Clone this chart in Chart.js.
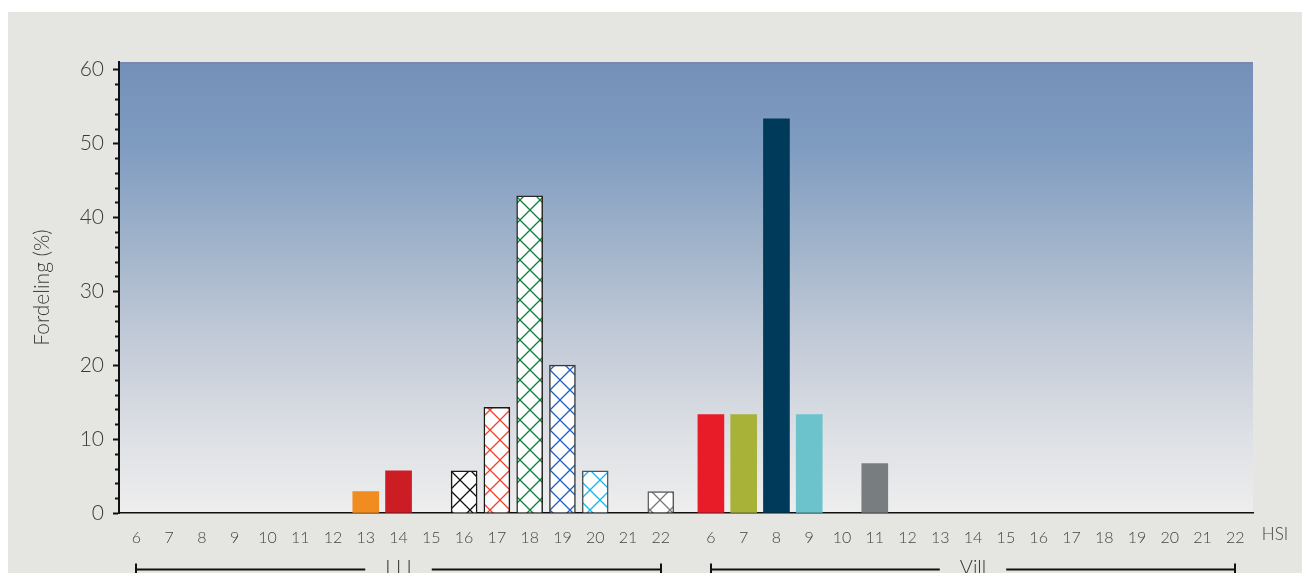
<!DOCTYPE html>
<html>
<head>
<meta charset="utf-8">
<script src="https://cdn.jsdelivr.net/npm/chart.js@4.4.1/dist/chart.umd.min.js"></script>
<style>
  html, body { margin: 0; padding: 0; background: #fff; }
  #wrap { width: 1302px; height: 573px; }
</style>
</head>
<body>
<div id="wrap"><canvas id="chart-hsi" width="1302" height="573"></canvas></div>
<script>
// HSI categories, same for both groups
const hsiLabels = [6, 7, 8, 9, 10, 11, 12, 13, 14, 15, 16, 17, 18, 19, 20, 21, 22];
const groupNames = ["I I I", "Vill"];
// Fordeling (%)
const oppdrett = [0, 0, 0, 0, 0, 0, 0, 2.9, 5.7, 0, 5.7, 14.3, 42.9, 20, 5.7, 0, 2.9];
const vill = [13.3, 13.3, 53.3, 13.3, 0, 6.7, 0, 0, 0, 0, 0, 0, 0, 0, 0, 0, 0];
const yTicks = [0, 10, 20, 30, 40, 50, 60];

// colours, hatched bars are given as {hatch: lineColor}
const oppdrettColors = [null, null, null, null, null, null, null,
    "#f08c20", "#cc1c24", null,
    {hatch: "#111111"}, {hatch: "#f0402c"}, {hatch: "#0e7d3c"}, {hatch: "#1d5fbf"},
    {hatch: "#12b6e6"}, null, {hatch: "#777777"}];
const oppdrettBorders = [null, null, null, null, null, null, null, null, null, null,
    "#1a1a1a", "#1a1a1a", "#2a2a2a", "#3a3a3a", "#555555", null, "#5a5a5a"];
const villColors = ["#e81c28", "#a8b238", "#003a5a", "#6cc3cc", null, "#787e80",
    null, null, null, null, null, null, null, null, null, null, null];

const groupOffset = 17.53;
const fontFamily = "Lato, 'Open Sans', sans-serif";

const $ = document;
const ctx = $.getElementById("chart-hsi");

function hatch(color) {
    const c = $.createElement("canvas");
    c.width = 20;
    c.height = 20;
    const g = c.getContext("2d");
    g.fillStyle = "#ffffff";
    g.fillRect(0, 0, 20, 20);
    g.strokeStyle = color;
    g.lineWidth = 1.3;
    g.beginPath();
    g.moveTo(-1, -1); g.lineTo(21, 21);
    g.moveTo(21, -1); g.lineTo(-1, 21);
    g.stroke();
    g.fillStyle = color;
    g.fillRect(9, 9, 2, 2);
    return ctx.getContext("2d").createPattern(c, "repeat");
}

const toFill = (c) => (c && c.hatch ? hatch(c.hatch) : (c || "rgba(0,0,0,0)"));

const oppdrettData = hsiLabels.map((h, i) => ({x: i, y: oppdrett[i]}));
const villData = hsiLabels.map((h, i) => ({x: i + groupOffset, y: vill[i]}));
const tickPositions = hsiLabels.map((h, i) => i).concat(hsiLabels.map((h, i) => i + groupOffset));
const tickText = hsiLabels.concat(hsiLabels);

const backdrop = {
    id: "backdrop",
    beforeDraw(chart) {
        const {ctx: c, chartArea: a} = chart;
        c.save();
        c.fillStyle = "#e5e5e1";
        c.fillRect(8, 12, chart.width - 8, chart.height - 12);
        const g = c.createLinearGradient(0, a.top, 0, a.bottom);
        g.addColorStop(0, "#7590b8");
        g.addColorStop(0.18, "#7e9bc0");
        g.addColorStop(0.42, "#a3b5cb");
        g.addColorStop(0.62, "#c3cbd8");
        g.addColorStop(0.82, "#dcdfe4");
        g.addColorStop(1, "#eeeeee");
        c.fillStyle = g;
        c.fillRect(a.left, a.top, a.right - a.left, a.bottom - a.top);
        c.fillStyle = "#7a86b0";
        c.fillRect(a.left, a.top, a.right - a.left, 2);
        c.restore();
    },
};

const extras = {
    id: "extras",
    afterDraw(chart) {
        const {ctx: c, chartArea: a} = chart;
        const x = chart.scales.x;
        const y = chart.scales.y;
        c.save();
        // minor ticks
        c.strokeStyle = "#111";
        c.lineWidth = 2;
        for (let v = 0; v <= 60; v += 2) {
            if (v % 10 === 0) continue;
            const py = Math.round(y.getPixelForValue(v)) + 0.5;
            c.beginPath();
            c.moveTo(a.left - 4, py);
            c.lineTo(a.left, py);
            c.stroke();
        }
        // HSI unit label
        c.fillStyle = "#444";
        c.font = "300 17px " + fontFamily;
        c.textAlign = "center";
        c.textBaseline = "middle";
        c.fillText("HSI", a.right + 22, 535);
        // group brackets
        const lineY = 569.5;
        c.font = "300 20px " + fontFamily;
        c.textBaseline = "alphabetic";
        c.lineWidth = 2;
        c.strokeStyle = "#111";
        [0, groupOffset].forEach((off, gi) => {
            const x0 = Math.round(x.getPixelForValue(off));
            const x1 = Math.round(x.getPixelForValue(off + hsiLabels.length - 1));
            const mid = (x0 + x1) / 2;
            const half = c.measureText(groupNames[gi]).width / 2 + 20;
            c.beginPath();
            c.moveTo(x0, lineY); c.lineTo(mid - half, lineY);
            c.moveTo(mid + half, lineY); c.lineTo(x1, lineY);
            c.moveTo(x0, lineY - 6); c.lineTo(x0, lineY + 6);
            c.moveTo(x1, lineY - 6); c.lineTo(x1, lineY + 6);
            c.stroke();
            c.fillStyle = "#333";
            c.fillText(groupNames[gi], mid, 574);
        });
        c.restore();
    },
};

new Chart(ctx, {
    type: "bar",
    data: {
        datasets: [
            {
                label: groupNames[0],
                data: oppdrettData,
                backgroundColor: oppdrettColors.map(toFill),
                borderColor: oppdrettBorders.map((b) => b || "rgba(0,0,0,0)"),
                borderWidth: oppdrettBorders.map((b) => (b ? 1.5 : 0)),
            },
            {
                label: groupNames[1],
                data: villData,
                backgroundColor: villColors.map(toFill),
                borderWidth: 0,
            },
        ],
    },
    options: {
        responsive: false,
        animation: false,
        devicePixelRatio: 1,
        layout: {
            padding: {left: 0, right: 49, top: 62, bottom: 0},
        },
        datasets: {
            bar: {
                grouped: false,
                barThickness: 26,
            },
        },
        plugins: {
            legend: {display: false},
            tooltip: {enabled: false},
        },
        scales: {
            x: {
                type: "linear",
                offset: false,
                min: -0.53,
                max: 34.07,
                afterBuildTicks: (scale) => {
                    scale.ticks = tickPositions.map((v) => ({value: v}));
                },
                afterFit: (scale) => {
                    scale.height = 60;
                },
                ticks: {
                    autoSkip: false,
                    maxRotation: 0,
                    padding: 7,
                    color: "#444",
                    font: {size: 16, family: fontFamily, weight: 300},
                    callback: (value, index) => tickText[index],
                },
                grid: {display: false},
                border: {display: true, color: "#111", width: 1.5},
            },
            y: {
                min: 0,
                max: 61,
                afterBuildTicks: (scale) => {
                    scale.ticks = yTicks.map((v) => ({value: v}));
                },
                afterFit: (scale) => {
                    scale.width = 119;
                },
                ticks: {
                    padding: 9,
                    color: "#3a3a3a",
                    font: {size: 21, family: fontFamily, weight: 300},
                },
                grid: {
                    drawOnChartArea: false,
                    drawTicks: true,
                    tickLength: 6,
                    tickColor: "#111",
                    tickWidth: 2,
                },
                border: {display: true, color: "#111", width: 2},
                title: {
                    display: true,
                    text: "Fordeling (%)",
                    color: "#3a3a3a",
                    padding: {top: 30, bottom: 0},
                    font: {size: 21, family: fontFamily, weight: 300},
                },
            },
        },
    },
    plugins: [backdrop, extras],
});
</script>
</body>
</html>
